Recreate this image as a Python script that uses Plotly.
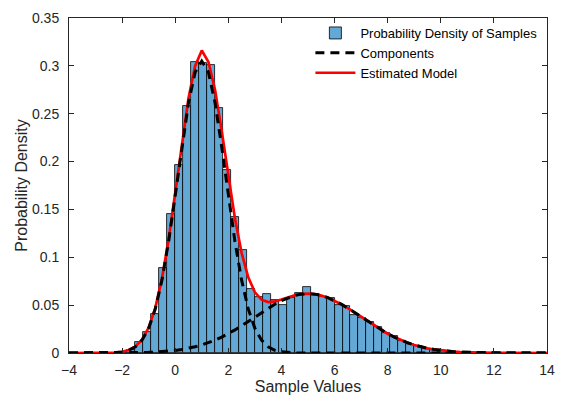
import plotly.graph_objects as go

# Histogram (bin width 0.3)
bin_left_edges = [-2.4, -2.1, -1.8, -1.5, -1.2, -0.9, -0.6, -0.3, 0.0, 0.3, 0.6, 0.9, 1.2, 1.5, 1.8,
                  2.1, 2.4, 2.7, 3.0, 3.3, 3.6, 3.9, 4.2, 4.5, 4.8, 5.1, 5.4, 5.7, 6.0, 6.3, 6.6,
                  6.9, 7.2, 7.5, 7.8, 8.1, 8.4, 8.7, 9.0, 9.3, 9.6, 9.9, 10.2, 10.5, 10.8, 11.1]
bin_width = 0.3
density = [0.0005, 0.001, 0.003, 0.011, 0.022, 0.041, 0.089, 0.145, 0.196, 0.258, 0.304, 0.303, 0.301,
           0.256, 0.191, 0.142, 0.108, 0.0666, 0.058, 0.0615, 0.055, 0.0497, 0.057, 0.063, 0.069,
           0.062, 0.059, 0.057, 0.050, 0.049, 0.040, 0.037, 0.032, 0.027, 0.021, 0.018, 0.0125,
           0.0091, 0.0068, 0.0047, 0.0034, 0.002, 0.0013, 0.0008, 0.0005, 0.0003]

# Curve grid
x_grid = [-4.0, -3.75, -3.5, -3.25, -3.0, -2.75, -2.5, -2.25, -2.0, -1.75, -1.5, -1.25, -1.0, -0.75,
          -0.5, -0.25, 0.0, 0.25, 0.5, 0.75, 1.0, 1.25, 1.5, 1.75, 2.0, 2.25, 2.5, 2.75, 3.0, 3.25,
          3.5, 3.75, 4.0, 4.25, 4.5, 4.75, 5.0, 5.25, 5.5, 5.75, 6.0, 6.25, 6.5, 6.75, 7.0, 7.25,
          7.5, 7.75, 8.0, 8.25, 8.5, 8.75, 9.0, 9.25, 9.5, 9.75, 10.0, 10.25, 10.5, 10.75, 11.0,
          11.25, 11.5, 11.75, 12.0, 12.25, 12.5, 12.75, 13.0, 13.25, 13.5, 13.75, 14.0]

component1 = [0, 0, 0, 0.00001, 0.00002, 0.00005, 0.00016, 0.00045, 0.00118, 0.00286, 0.00644, 0.0134,
              0.0258, 0.0461, 0.0761, 0.1163, 0.1645, 0.2155, 0.2614, 0.2934, 0.305, 0.2934, 0.2614,
              0.2155, 0.1645, 0.1163, 0.0761, 0.0461, 0.0258, 0.0134, 0.00644, 0.00286, 0.00118,
              0.00045, 0.00016, 0.00005, 0.00002, 0.00001, 0, 0, 0, 0, 0, 0, 0, 0, 0, 0, 0, 0, 0,
              0, 0, 0, 0, 0, 0, 0, 0, 0, 0, 0, 0, 0, 0, 0, 0, 0, 0, 0, 0, 0, 0]

component2 = [0, 0, 0, 0.00001, 0.00002, 0.00003, 0.00005, 0.00009, 0.00014, 0.00021, 0.00032, 0.00047,
              0.00069, 0.0010, 0.0014, 0.0020, 0.0027, 0.0037, 0.0049, 0.0065, 0.0084, 0.0107, 0.0134,
              0.0166, 0.0201, 0.0241, 0.0284, 0.0329, 0.0376, 0.0423, 0.0468, 0.0510, 0.0547, 0.0578,
              0.0601, 0.0615, 0.062, 0.0615, 0.0601, 0.0578, 0.0547, 0.0510, 0.0468, 0.0423, 0.0376,
              0.0329, 0.0284, 0.0241, 0.0201, 0.0166, 0.0134, 0.0107, 0.0084, 0.0065, 0.0049, 0.0037,
              0.0027, 0.0020, 0.0014, 0.0010, 0.00069, 0.00047, 0.00032, 0.00021, 0.00014, 0.00009,
              0.00005, 0.00003, 0.00002, 0.00001, 0, 0, 0]

model = [0, 0, 0, 0.00002, 0.00004, 0.00008, 0.00021, 0.00054, 0.00132, 0.00307, 0.00676, 0.0139,
         0.0265, 0.0471, 0.0775, 0.1183, 0.1672, 0.2192, 0.2663, 0.2999, 0.316, 0.3041, 0.2748,
         0.2321, 0.1846, 0.1404, 0.1045, 0.0790, 0.0634, 0.0557, 0.0532, 0.0539, 0.0559, 0.0583,
         0.0603, 0.0616, 0.0620, 0.0615, 0.0601, 0.0578, 0.0547, 0.0510, 0.0468, 0.0423, 0.0376,
         0.0329, 0.0284, 0.0241, 0.0201, 0.0166, 0.0134, 0.0107, 0.0084, 0.0065, 0.0049, 0.0037,
         0.0027, 0.0020, 0.0014, 0.0010, 0.00069, 0.00047, 0.00032, 0.00021, 0.00014, 0.00009,
         0.00005, 0.00003, 0.00002, 0.00001, 0, 0, 0]

x_ticks = [-4, -2, 0, 2, 4, 6, 8, 10, 12, 14]
y_ticks = [0, 0.05, 0.1, 0.15, 0.2, 0.25, 0.3, 0.35]
y_ticklabels = ["0", "0.05", "0.1", "0.15", "0.2", "0.25", "0.3", "0.35"]

FONT = "Liberation Sans, Arial, sans-serif"
TXT = "#262626"

fig = go.Figure()
fig.add_trace(go.Bar(
    x=[e + bin_width / 2 for e in bin_left_edges], y=density, width=bin_width,
    marker=dict(color="rgb(100,168,214)", line=dict(color="black", width=0.8)),
    name="Probability Density of Samples", legendrank=1))
fig.add_trace(go.Scatter(
    x=x_grid, y=model, mode="lines", line=dict(color="#ff0000", width=2.7),
    name="Estimated Model", legendrank=3))
fig.add_trace(go.Scatter(
    x=x_grid, y=component1, mode="lines", line=dict(color="black", width=3, dash="9px,6px"),
    name="Components", legendgroup="comp", legendrank=2))
fig.add_trace(go.Scatter(
    x=x_grid, y=component2, mode="lines", line=dict(color="black", width=3, dash="9px,6px"),
    name="Components", legendgroup="comp", showlegend=False))

axis_common = dict(showline=True, linecolor="#262626", linewidth=1, mirror="ticks",
                   ticks="inside", ticklen=5, tickcolor="#262626", showgrid=False,
                   zeroline=False, tickfont=dict(family=FONT, size=14, color=TXT))

fig.update_layout(
    width=565, height=403,
    margin=dict(l=69, r=18, t=10, b=48),
    paper_bgcolor="white", plot_bgcolor="white",
    bargap=0,
    font=dict(family=FONT, color=TXT),
    xaxis=dict(range=[-4, 14], tickvals=x_ticks, ticklabelstandoff=4,
               title=dict(text="Sample Values", font=dict(family=FONT, size=16, color=TXT), standoff=4),
               **axis_common),
    yaxis=dict(range=[0, 0.35], tickvals=y_ticks, ticktext=y_ticklabels, ticklabelstandoff=6,
               title=dict(text="Probability Density", font=dict(family=FONT, size=16, color=TXT), standoff=0),
               **axis_common),
    legend=dict(x=0.505, y=1.0, xanchor="left", yanchor="top",
                bgcolor="rgba(255,255,255,0)", borderwidth=0,
                font=dict(family=FONT, size=13, color="black"),
                tracegroupgap=0, itemwidth=40),
    showlegend=True,
)

fig.write_html("out.html")
